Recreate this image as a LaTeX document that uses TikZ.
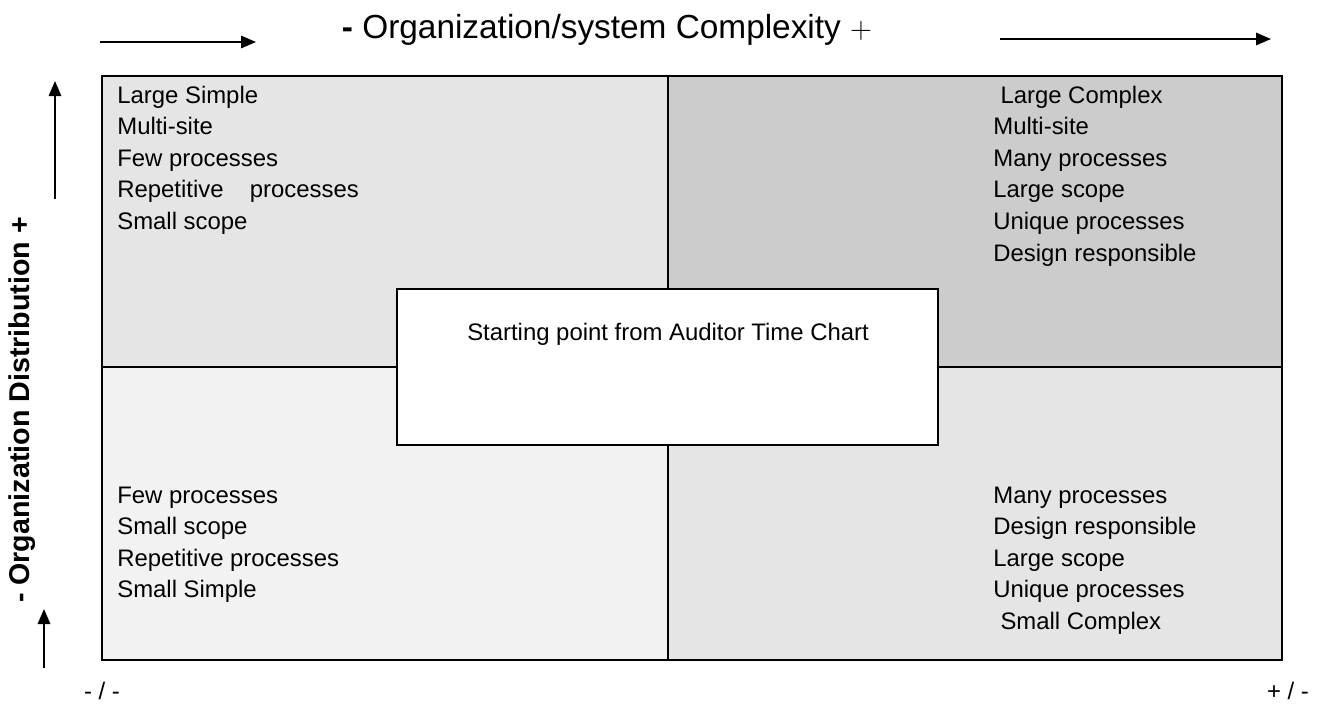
\documentclass[tikz,border=0pt]{standalone}
\usepackage{fontspec}
\setmainfont{Liberation Sans}
\usetikzlibrary{arrows.meta,positioning,calc}
\definecolor{qlight}{HTML}{E5E5E5}
\definecolor{qdark}{HTML}{CCCCCC}
\definecolor{qpale}{HTML}{F2F2F2}

\begin{document}
\begin{tikzpicture}[x=0.02cm, y=-0.02cm,
  quad/.style={draw=black, line width=0.8pt},
  txt/.style={anchor=base west, inner sep=0pt, font=\fontsize{13.6}{15}\selectfont},
  arr/.style={-{Triangle[length=0.3cm, width=0.25cm]}, line width=0.9pt}
]
  \useasboundingbox (0,0) rectangle (1322,707);
  % quadrants
  \fill[qlight] (102,76) rectangle (668,367);
  \fill[qdark] (668,76) rectangle (1282,367);
  \fill[qpale] (102,367) rectangle (668,660);
  \fill[qlight] (668,367) rectangle (1282,660);
  \draw[quad] (668,76) -- (668,660);
  \draw[quad] (102,367) -- (1282,367);
  \draw[line width=1.1pt] (102,76) rectangle (1282,660);
  \node[draw, line width=1.1pt, fill=white, minimum width=541*0.02cm, minimum height=156*0.02cm, inner sep=0pt] (start) at (667.5,367) {};
  \node[txt, anchor=base] (startlbl) at (668,340) {Starting point from Auditor Time Chart};

  \foreach \t [count=\i] in {Large Simple, Multi-site, Few processes, Repetitive\hspace{1.1em}processes, Small scope}
    \node[txt] (tl\i) at (117,{103+31.65*(\i-1)}) {\t};
  \foreach \t [count=\i] in {\hspace{0.3em}Large Complex, Multi-site, Many processes, Large scope, Unique processes, Design responsible}
    \node[txt] (tr\i) at (993,{103+31.65*(\i-1)}) {\t};
  \foreach \t [count=\i] in {Few processes, Small scope, Repetitive processes, Small Simple}
    \node[txt] (bl\i) at (117,{503+31.65*(\i-1)}) {\t};
  \foreach \t [count=\i] in {Many processes, Design responsible, Large scope, Unique processes, \hspace{0.3em}Small Complex}
    \node[txt] (br\i) at (993,{503+31.65*(\i-1)}) {\t};

  % axes
  \node[anchor=base, inner sep=0pt, font=\fontsize{19}{21}\selectfont] (xlbl) at (607,38) {\textbf{-} Organization/system Complexity $+$};
  \node[rotate=90, inner sep=0pt, font=\fontsize{16.3}{18}\bfseries] (ylbl) at (22,410) {- Organization Distribution +};
  \coordinate (a1) at (100,42); \coordinate (a2) at (256,42);
  \coordinate (b1) at (1000,39); \coordinate (b2) at (1271,39);
  \coordinate (c1) at (55,199); \coordinate (c2) at (55,81);
  \coordinate (d1) at (44,668); \coordinate (d2) at (44,609);
  \draw[arr] (a1) -- (a2);
  \draw[arr] (b1) -- (b2);
  \draw[arr] (c1) -- (c2);
  \draw[arr] (d1) -- (d2);
  \node[txt, anchor=base] (lowleft) at (102,699) {- / -};
  \node[txt, anchor=base] (lowright) at (1288,699) {+ / -};
\end{tikzpicture}
\end{document}
